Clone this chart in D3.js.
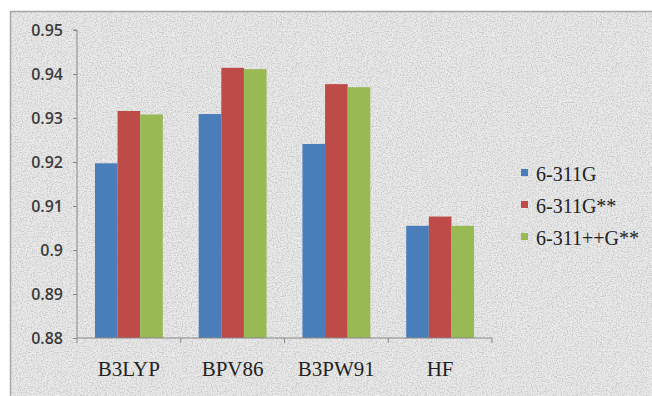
<!DOCTYPE html>
<html><head><meta charset="utf-8">
<script src="https://cdn.jsdelivr.net/npm/d3@7"></script>
<style>body{margin:0;background:#fff}svg{display:block}</style>
</head><body>
<svg id="c" width="652" height="396"></svg>
<script>
const categories = ["B3LYP", "BPV86", "B3PW91", "HF"];
const seriesNames = ["6-311G", "6-311G**", "6-311++G**"];
const s6311G = [0.9197, 0.9309, 0.9241, 0.9055];
const s6311Gss = [0.9316, 0.9414, 0.9377, 0.9076];
const s6311ppGss = [0.9308, 0.9411, 0.9370, 0.9055];
const yTicks = [0.88, 0.89, 0.90, 0.91, 0.92, 0.93, 0.94, 0.95];
const yTickLabels = ["0.88", "0.89", "0.9", "0.91", "0.92", "0.93", "0.94", "0.95"];
const colors = ["#4a7ebb", "#be4b48", "#98b954"];
const series = [s6311G, s6311Gss, s6311ppGss];

const svg = d3.select("#c");
const defs = svg.append("defs");
const f = defs.append("filter").attr("id","noise").attr("x",0).attr("y",0).attr("width","100%").attr("height","100%");
f.append("feTurbulence").attr("type","fractalNoise").attr("baseFrequency",0.8).attr("numOctaves",2).attr("seed",5).attr("result","t");
f.append("feColorMatrix").attr("in","t").attr("type","matrix")
 .attr("values","0 0 0 0 0.6  0 0 0 0 0.6  0 0 0 0 0.6  3.5 0 0 0 -1.5").attr("result","n");
f.append("feComposite").attr("in","n").attr("in2","SourceGraphic").attr("operator","over");

svg.append("rect").attr("x",10).attr("y",11).attr("width",660).attr("height",400)
  .attr("fill","#eaeaea").attr("filter","url(#noise)");
svg.append("rect").attr("x",10.5).attr("y",11.5).attr("width",660).attr("height",400)
  .attr("fill","none").attr("stroke","#a6a6a6").attr("stroke-width",1.5);

const pLeft = 77, pRight = 492, pTop = 30, pBottom = 338;
const y = d3.scaleLinear().domain([0.88, 0.95]).range([pBottom, pTop]);
const x0 = d3.scaleBand().domain(categories).range([pLeft, pRight]).paddingInner(0.346).paddingOuter(0.173);
const x1 = d3.scaleBand().domain(seriesNames).range([0, x0.bandwidth()]);

const g = svg.append("g");
categories.forEach((c, i) => {
  seriesNames.forEach((s, j) => {
    g.append("rect")
      .attr("x", x0(c) + x1(s))
      .attr("y", y(series[j][i]))
      .attr("width", x1.bandwidth())
      .attr("height", y(0.88) - y(series[j][i]))
      .attr("fill", colors[j]);
  });
});

// y axis
const ya = svg.append("g").attr("transform", `translate(${pLeft},0)`)
  .call(d3.axisLeft(y).tickValues(yTicks).tickFormat((d,i)=>yTickLabels[i]).tickSize(4).tickPadding(10));
ya.select(".domain").attr("stroke","#888").attr("d", `M-4,${pTop}H0V${pBottom}`);
ya.selectAll(".tick line").attr("stroke","#888");
ya.selectAll("text").attr("font-family","'Open Sans', sans-serif").attr("font-size",16).attr("font-weight",600).attr("fill","#3a3a3a");

// x axis
const xa = svg.append("g").attr("transform", `translate(0,${pBottom})`);
xa.append("line").attr("x1",pLeft).attr("x2",pRight).attr("stroke","#888");
const xb = d3.scalePoint().domain(d3.range(categories.length+1)).range([pLeft,pRight]);
xb.domain().forEach(k => xa.append("line").attr("x1",xb(k)).attr("x2",xb(k)).attr("y1",0).attr("y2",5).attr("stroke","#888"));
categories.forEach(c => {
  xa.append("text").attr("x", x0(c) + x0.bandwidth()/2).attr("y", 38)
    .attr("text-anchor","middle").attr("font-family","'Liberation Serif', serif")
    .attr("font-size",21).attr("fill","#222").text(c);
});

// legend
seriesNames.forEach((s, j) => {
  const ly = 169 + j*32;
  svg.append("rect").attr("x",521).attr("y",ly).attr("width",7).attr("height",7).attr("fill",colors[j]);
  svg.append("text").attr("x",536).attr("y",ly+12).attr("font-family","'Liberation Serif', serif")
    .attr("font-size",20).attr("fill","#222").text(s);
});
</script>
</body></html>
